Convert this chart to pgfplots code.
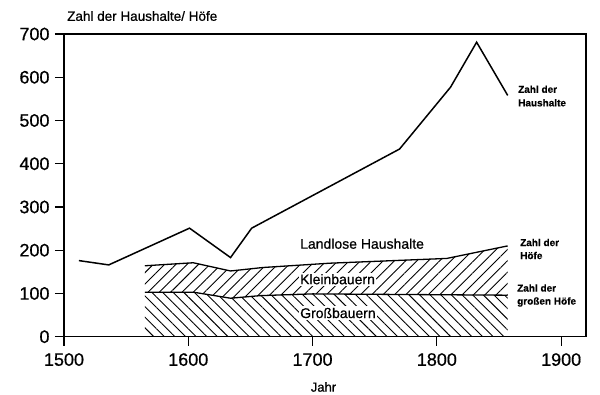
\documentclass[border=0pt]{standalone}
\usepackage{fontspec}
\setmainfont{Liberation Sans}[RawFeature={embolden=0.6}]
\usepackage{pgfplots}
\pgfplotsset{compat=1.18}
\usepgfplotslibrary{fillbetween}
\usetikzlibrary{patterns.meta}
\begin{document}
\begin{tikzpicture}
\begin{axis}[
  scale only axis, width=522bp, height=302.7bp,
  at={(0,0)}, anchor=south west,
  xmin=1500, xmax=1920, ymin=0, ymax=700,
  xtick={1500,1600,1700,1800,1900}, ytick={0,100,200,300,400,500,600,700},
  tick align=outside, xtick pos=bottom, ytick pos=left,
  major tick length=9bp,
  tick style={line width=1.2bp, black},
  axis line style={line width=1.5bp},
  ticklabel style={font=\fontsize{18bp}{21bp}\selectfont},
  xticklabel style={yshift=-4bp},
  yticklabel style={xshift=-2bp},
  /pgf/number format/1000 sep={},
  /pgf/number format/assume math mode=true,
  clip=false,
]
\addplot[line width=1.5bp, black] coordinates {(1512,176) (1536,166) (1601,251) (1634,183) (1651,251) (1770,434) (1811,577) (1832,681) (1857,558)};
\addplot[name path=hofe, line width=1.3bp, black] coordinates {(1565,164) (1604,171) (1634,152) (1660,160) (1714,170) (1808,181) (1857,210)};
\addplot[name path=gross, line width=1.3bp, black] coordinates {(1565,103) (1604,103) (1634,89) (1658,95) (1700,99) (1857,96)};
\path[name path=base] (axis cs:1565,0) -- (axis cs:1857,0);
\addplot[draw=none, pattern={Lines[angle=-45,distance=7.5bp,line width=0.9bp]}, pattern color=black] fill between[of=gross and base];
\addplot[draw=none, pattern={Lines[angle=45,distance=8bp,line width=0.9bp]}, pattern color=black] fill between[of=hofe and gross];
\end{axis}
\node[anchor=west, inner sep=0pt, font=\fontsize{13.5bp}{16bp}\selectfont] at (3bp,320.7bp) {Zahl der Haushalte/ Höfe};
\node[inner sep=0pt, font=\fontsize{13bp}{16bp}\selectfont] at (259.5bp,-50.3bp) {Jahr};
\node[anchor=west, inner sep=1.5bp, fill=white, font=\fontsize{14bp}{17bp}\selectfont] at (234.5bp,93bp) {Landlose Haushalte};
\node[anchor=west, inner sep=1.5bp, fill=white, font=\fontsize{14bp}{17bp}\selectfont] at (234.5bp,57.5bp) {Kleinbauern};
\node[anchor=west, inner sep=1.5bp, fill=white, font=\fontsize{14bp}{17bp}\selectfont] at (234.5bp,23.7bp) {Großbauern};
\node[anchor=west, align=left, inner sep=0pt, font=\bfseries\fontsize{10bp}{13.5bp}\selectfont] at (454bp,240.7bp) {Zahl der\\Haushalte};
\node[anchor=west, align=left, inner sep=0pt, font=\bfseries\fontsize{10bp}{13bp}\selectfont] at (456bp,87.7bp) {Zahl der\\Höfe};
\node[anchor=west, align=left, inner sep=0pt, font=\bfseries\fontsize{10bp}{13bp}\selectfont] at (453bp,41.2bp) {Zahl der\\großen Höfe};
\pgfresetboundingbox
\path (-64bp,-58.3bp) rectangle (536bp,336.7bp);
\end{tikzpicture}
\end{document}
